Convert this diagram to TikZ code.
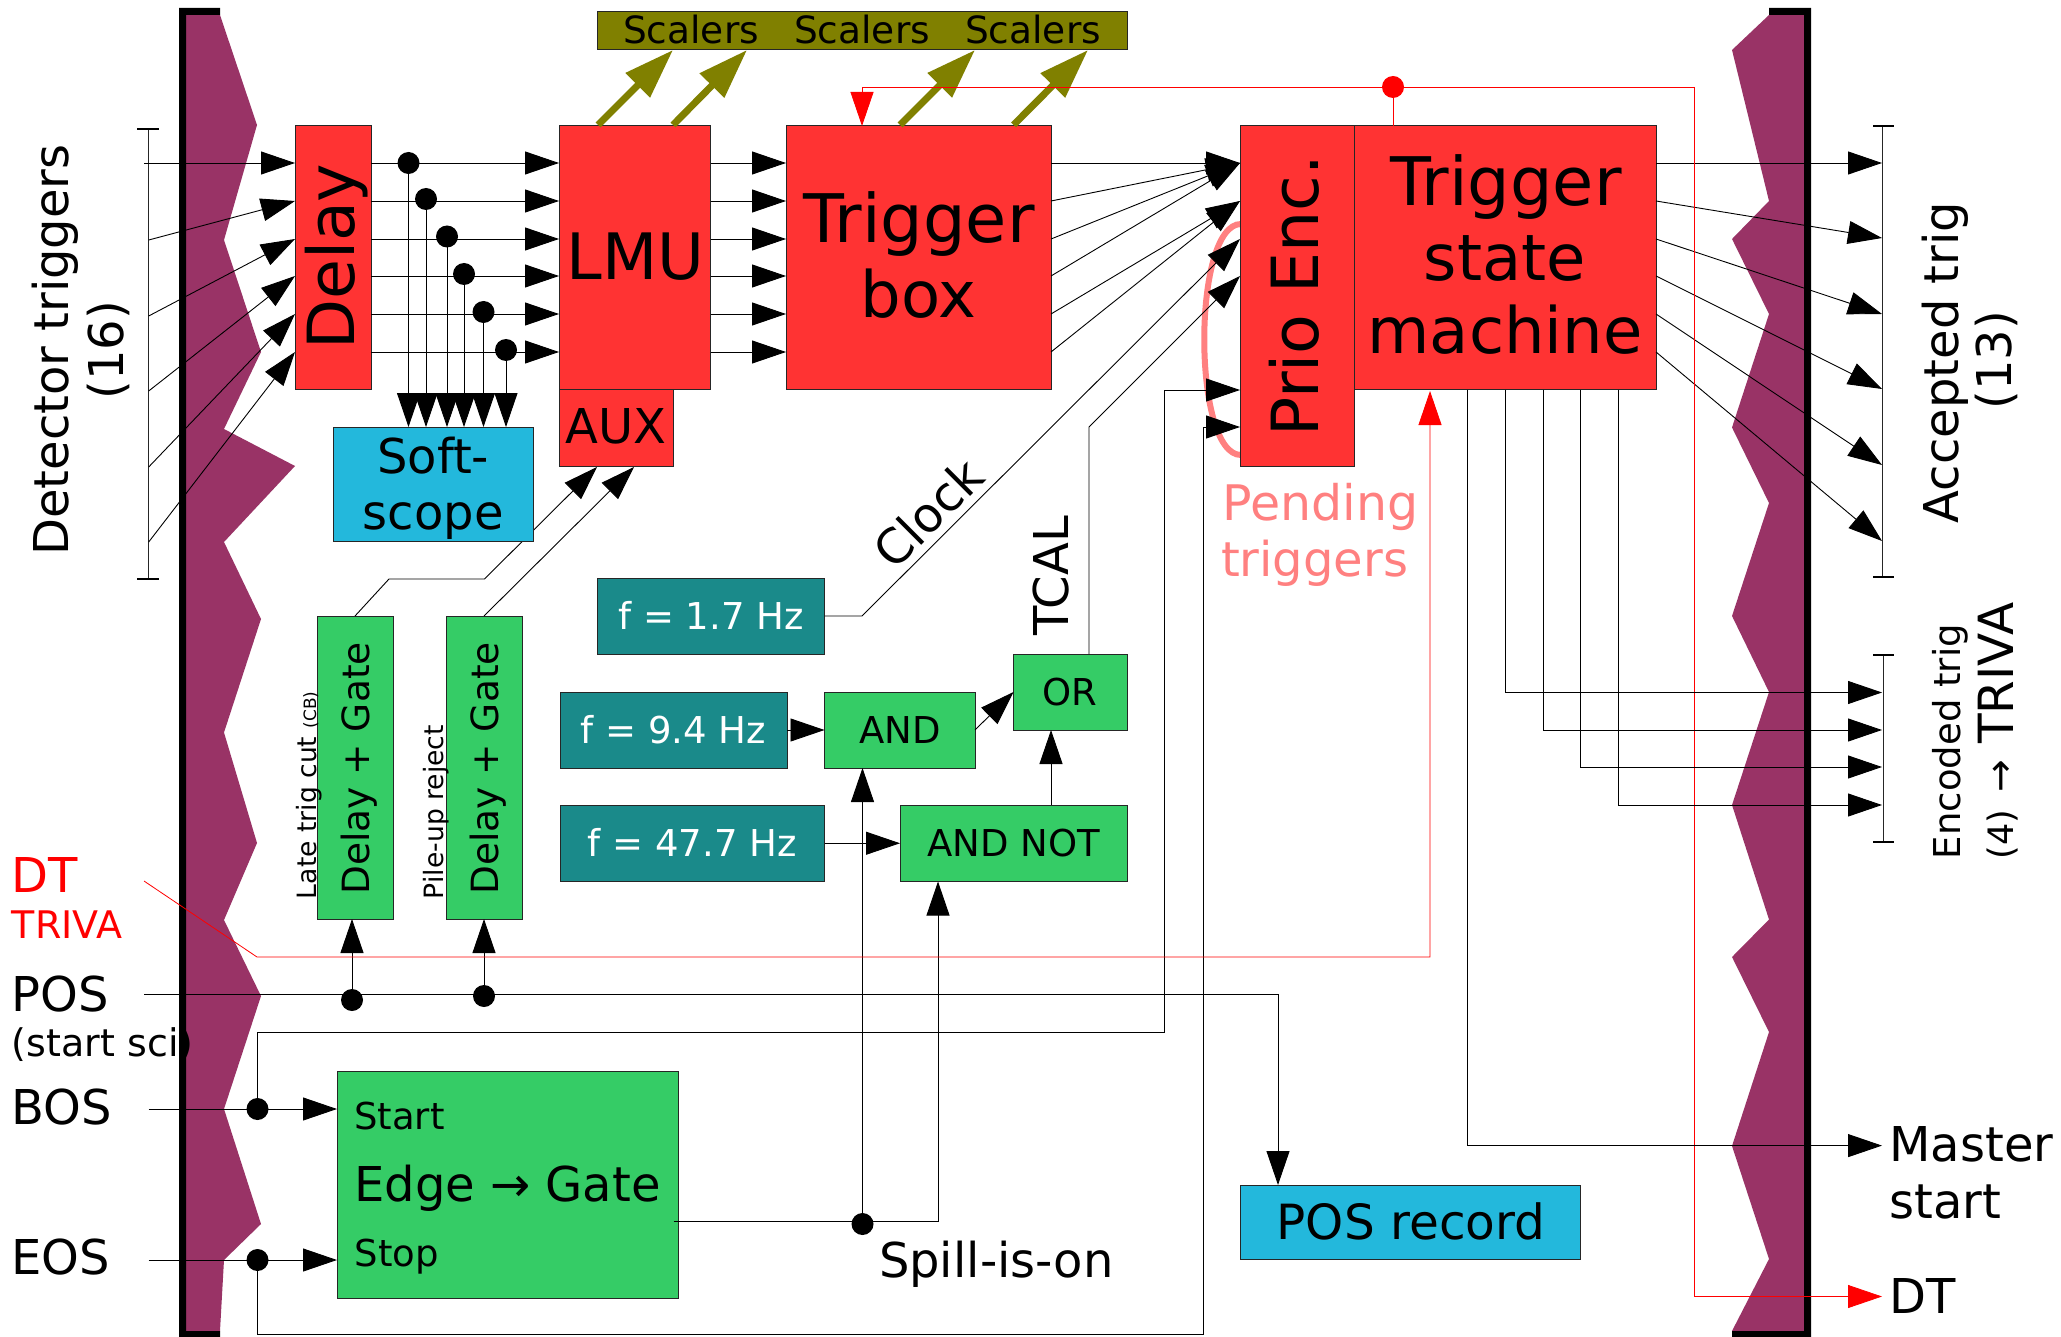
\documentclass[tikz,border=0pt]{standalone}
\usepackage{fontspec}
\setmainfont{DejaVu Sans}
\usetikzlibrary{arrows.meta,calc}
\definecolor{cred}{HTML}{FF3333}
\definecolor{ccyan}{HTML}{23B8DC}
\definecolor{cteal}{HTML}{1A8A8A}
\definecolor{cgreen}{HTML}{35CC66}
\definecolor{cmag}{HTML}{993366}
\definecolor{colive}{HTML}{808000}
\definecolor{cpink}{HTML}{FF8080}
\newcommand\fs[1]{\fontsize{#1}{#1}\selectfont}
% text placed by baseline, relative to the centre of its node: dx, dy (up), angle, text
\newcommand\pl[4]{\rlap{\hspace*{#1pt}\smash{\raisebox{#2pt}{\rotatebox{#3}{\smash{\makebox[0pt][c]{#4}}}}}}}
\newcommand\bx[7]{%
  \pgfmathsetmacro\bw{#4-#2}\pgfmathsetmacro\bh{#5-#3}%
  \pgfmathsetmacro\bcx{(#2+#4)/2}\pgfmathsetmacro\bcy{(#3+#5)/2}%
  \node[boxbase,#6,minimum width=\bw pt,minimum height=\bh pt] (#1) at (\bcx,\bcy) {#7};}
\pgfdeclarelayer{bg}\pgfdeclarelayer{top}\pgfsetlayers{bg,main,top}
\tikzset{
  boxbase/.style={draw=black!85,line width=1pt,inner sep=0pt,outer sep=0pt},
  redbox/.style={fill=cred},cyanbox/.style={fill=ccyan},tealbox/.style={fill=cteal,text=white},
  greenbox/.style={fill=cgreen},olivebox/.style={fill=colive},
  wire/.style={line width=0.9pt,black,line join=miter},
  arr/.style={wire,-{Triangle[length=34pt,width=23pt]}},
  redwire/.style={line width=0.8pt,red},
  redarr/.style={redwire,-{Triangle[length=34pt,width=23pt]}},
  olarr/.style={line width=7pt,colive,-{Triangle[length=50pt,width=33pt]}},
  jdot/.style={circle,fill=black,minimum size=22pt,inner sep=0pt,outer sep=0pt},
  rdot/.style={circle,fill=red,minimum size=22pt,inner sep=0pt,outer sep=0pt},
  lbl/.style={inner sep=0pt,outer sep=0pt},
  stripfill/.style={fill=cmag,draw=none},
  stripedge/.style={fill=black,draw=none},
  brk/.style={line width=1pt,black!85},
  brkcap/.style={line width=2pt,black},
}
\begin{document}
\begin{tikzpicture}[x=1pt,y=-1pt]
\useasboundingbox (0,0) rectangle (2061,1337);
\begin{pgfonlayer}{bg}
\fill[white] (0,0) rectangle (2061,1337);
\fill[stripfill] (185,15) -- (220,15) -- (257,125) -- (224,240) -- (261,352) -- (224,429) -- (295,466) -- (224,542) -- (261,619) -- (224,732.5) -- (257,843) -- (224,920) -- (261,996) -- (224,1109) -- (261,1224) -- (224,1260) -- (220,1331) -- (185,1331) -- cycle;
\fill[stripfill] (1769,15) -- (1732,50) -- (1769,201) -- (1732,239) -- (1769,314) -- (1732,427.5) -- (1769,503) -- (1732,616) -- (1769,692) -- (1732,805) -- (1769,919.5) -- (1732,957) -- (1769,1032) -- (1732,1146) -- (1769,1259) -- (1732,1331) -- (1805,1331) -- (1805,15) -- cycle;
\fill[stripedge] (220,8) -- (179,8) -- (179,1337) -- (220,1337) -- (220,1331) -- (186,1331) -- (186,15) -- (220,15) -- cycle;
\fill[stripedge] (1769,8) -- (1811,8) -- (1811,1337) -- (1732,1337) -- (1732,1331) -- (1804,1331) -- (1804,15) -- (1769,15) -- cycle;
\coordinate (arcA) at (1241,224);
\coordinate (arcB) at (1241,455);
\draw[cpink,line width=6pt] (arcA) .. controls (1192,224) and (1192,455) .. (arcB);
\end{pgfonlayer}

% rows
\foreach \n/\y in {1/163,2/201,3/239,4/276,5/314,6/352}{\coordinate (r\n) at (0,\y);}
\foreach \n/\y in {1/163,2/240,3/316,4/391,5/467,6/542}{\coordinate (in\n) at (148.7,\y);}
\coordinate (in1) at (144,163);
\foreach \n/\y in {1/163,2/238,3/314,4/389,5/465,6/541}{\coordinate (ao\n) at (1882,\y);}

% boxes
\bx{delay}{295}{126}{371}{389.5}{redbox}{\pl{21.5}{1}{90}{\fs{65}Delay}}
\bx{lmu}{559}{126}{710.5}{389.5}{redbox}{\pl{0.5}{-22}{0}{\fs{64}LMU}}
\bx{aux}{559}{389.5}{673}{466}{redbox}{\pl{0}{-16}{0}{\fs{48}AUX}}
\bx{tb}{786}{126}{1051}{389.5}{redbox}{\pl{0.5}{15}{0}{\fs{67}Trigger}\pl{0}{-60}{0}{\fs{64}box}}
\bx{prio}{1240}{126}{1354}{466}{redbox}{\pl{21.5}{0}{90}{\fs{65}Prio Enc.}}
\bx{tsm}{1354}{126}{1656}{389.5}{redbox}{\pl{1}{52.5}{0}{\fs{67}Trigger}\pl{0}{-23}{0}{\fs{64}state}\pl{0}{-96}{0}{\fs{64}machine}}
\bx{scal}{597}{12}{1127}{50}{olivebox}{\pl{-171}{-13}{0}{\fs{37.5}Scalers}\pl{0}{-13}{0}{\fs{37.5}Scalers}\pl{171}{-13}{0}{\fs{37.5}Scalers}}
\begin{pgfonlayer}{top}
\bx{soft}{333}{427}{533.5}{541}{cyanbox}{\pl{0}{11}{0}{\fs{48}Soft-}\pl{0}{-45}{0}{\fs{48}scope}}
\end{pgfonlayer}
\bx{dg1}{317}{616}{393}{919}{greenbox}{\pl{14}{-1}{90}{\fs{37.5}Delay + Gate}}
\bx{dg2}{446}{616}{522}{919}{greenbox}{\pl{14}{-1}{90}{\fs{37.5}Delay + Gate}}
\bx{f17}{597.5}{578}{824.5}{654}{tealbox}{\pl{0}{-13}{0}{\fs{37}f = 1.7 Hz}}
\bx{f94}{560}{692}{787}{768}{tealbox}{\pl{0}{-13}{0}{\fs{37}f = 9.4 Hz}}
\bx{f477}{560}{805}{824.5}{881.5}{tealbox}{\pl{0}{-13}{0}{\fs{37}f = 47.7 Hz}}
\bx{and}{824.5}{692}{975}{768}{greenbox}{\pl{0}{-13}{0}{\fs{37}AND}}
\bx{or}{1013.5}{654}{1127}{730}{greenbox}{\pl{0}{-13}{0}{\fs{37}OR}}
\bx{andnot}{900}{805}{1127}{881.5}{greenbox}{\pl{0}{-13}{0}{\fs{37}AND NOT}}
\bx{edgegate}{337}{1071}{678}{1298.5}{greenbox}{\pl{0}{-17}{0}{\fs{48}Edge → Gate}\pl{-108}{55}{0}{\fs{37}Start}\pl{-110.5}{-81.5}{0}{\fs{37}Stop}}
\bx{posrec}{1240}{1185}{1580}{1259}{cyanbox}{\pl{1}{-17}{0}{\fs{48.5}POS record}}

% labels
\node[lbl,rotate=90,anchor=base,font=\fs{48}] (ldet) at (68,350) {Detector triggers};
\node[lbl,rotate=90,anchor=base,font=\fs{48}] (ldet2) at (123,350) {(16)};
\node[lbl,anchor=base west,text=red,font=\fs{48}] (ldt) at (11.5,892) {DT};
\node[lbl,anchor=base west,text=red,font=\fs{38}] (ltriva) at (12,938) {TRIVA};
\node[lbl,anchor=base west,font=\fs{48}] (lpos) at (11.5,1011) {POS};
\node[lbl,anchor=base west,font=\fs{38}] (lsci) at (12,1056) {(start sci)};
\node[lbl,anchor=base west,font=\fs{48}] (lbos) at (11.5,1124) {BOS};
\node[lbl,anchor=base west,font=\fs{48}] (leos) at (11.5,1274) {EOS};
\node[lbl,rotate=90,anchor=base west,font=\fs{26.6}] (llate) at (316,899) {Late trig cut {\fs{17}(CB)}};
\node[lbl,rotate=90,anchor=base west,font=\fs{26.6}] (lpile) at (443,899) {Pile-up reject};
\node[lbl,rotate=45,anchor=center,font=\fs{48}] (lclock) at (928,513) {Clock};
\node[lbl,rotate=90,anchor=base,font=\fs{48}] (ltcal) at (1068,576) {TCAL};
\node[lbl,anchor=base west,text=cpink,font=\fs{49}] (lpend) at (1222.5,520) {Pending};
\node[lbl,anchor=base west,text=cpink,font=\fs{48}] (ltrg) at (1221,576.5) {triggers};
\node[lbl,anchor=base west,font=\fs{48}] (lspill) at (879,1277) {Spill-is-on};
\node[lbl,rotate=90,anchor=base,font=\fs{48}] (lacc) at (1958,362.5) {Accepted trig};
\node[lbl,rotate=90,anchor=base,font=\fs{48}] (lacc2) at (2011,360) {(13)};
\node[lbl,rotate=90,anchor=base west,font=\fs{37}] (lenc) at (1960,859) {Encoded trig};
\node[lbl,rotate=90,anchor=base west,font=\fs{35}] (lenc2) at (2013,859) {(4){\fs{52} }{\fs{39}→}{\fs{52} }{\fs{48.5}TRIVA}};
\node[lbl,anchor=base west,font=\fs{48}] (lmaster) at (1889.5,1161.5) {Master};
\node[lbl,anchor=base west,font=\fs{48}] (lstart) at (1889.5,1218) {start};
\node[lbl,anchor=base west,font=\fs{48}] (ldtout) at (1889.5,1313) {DT};

% brackets
\coordinate (b1a) at (148.7,128.6);\coordinate (b1b) at (148.7,579);
\coordinate (b1aL) at (137,128.6);\coordinate (b1aR) at (159,128.6);
\coordinate (b1bL) at (137,579);\coordinate (b1bR) at (159,579);
\draw[brk] (b1a) -- (b1b);\draw[brkcap] (b1aL) -- (b1aR);\draw[brkcap] (b1bL) -- (b1bR);
\coordinate (b2a) at (1882,126);\coordinate (b2b) at (1882,577);
\coordinate (b2aL) at (1873,126);\coordinate (b2aR) at (1894,126);
\coordinate (b2bL) at (1873,577);\coordinate (b2bR) at (1894,577);
\draw[brk] (b2a) -- (b2b);\draw[brkcap] (b2aL) -- (b2aR);\draw[brkcap] (b2bL) -- (b2bR);
\coordinate (b3a) at (1883,655);\coordinate (b3b) at (1883,841.5);
\coordinate (b3aL) at (1873,655);\coordinate (b3aR) at (1894,655);
\coordinate (b3bL) at (1873,841.5);\coordinate (b3bR) at (1894,841.5);
\draw[brk] (b3a) -- (b3b);\draw[brkcap] (b3aL) -- (b3aR);\draw[brkcap] (b3bL) -- (b3bR);

% detector inputs and row connectors
\foreach \n in {1,...,6}{
  \draw[arr] (in\n) -- (delay.west |- r\n);
  \draw[arr] (delay.east |- r\n) -- (lmu.west |- r\n);
  \draw[arr] (lmu.east |- r\n) -- (tb.west |- r\n);
  \draw[arr] (tsm.east |- r\n) -- (ao\n);
}
\foreach \n in {1,2,3,4}{\draw[arr] (tb.east |- r\n) -- (prio.west |- r1);}
\foreach \n in {5,6}{\draw[arr] (tb.east |- r\n) -- (prio.west |- r2);}

% softscope taps
\node[jdot] (t1) at (408.5,163) {};
\node[jdot] (t2) at (426,199) {};
\node[jdot] (t3) at (447,236.5) {};
\node[jdot] (t4) at (464,274) {};
\node[jdot] (t5) at (483.5,312) {};
\node[jdot] (t6) at (506,350) {};
\foreach \n in {1,...,6}{\draw[arr] (t\n.center) -- (t\n.center |- soft.north);}

% scalers
\coordinate (oa1) at (598,125);\coordinate (ob1) at (673,50);
\coordinate (oa2) at (673,125);\coordinate (ob2) at (747,50);
\coordinate (oa3) at (900,125);\coordinate (ob3) at (975,50);
\coordinate (oa4) at (1013.5,125);\coordinate (ob4) at (1088,50);
\foreach \n in {1,...,4}{\draw[olarr] (oa\n) -- (ob\n);}

% Delay+Gate to AUX
\coordinate (k1) at (355,616);\coordinate (k2) at (389,579);\coordinate (k3) at (484.5,579);\coordinate (auxa) at (597,467);
\draw[arr] (k1) -- (k2) -- (k3) -- (auxa);
\coordinate (k4) at (484,616);\coordinate (auxb) at (634,467);
\draw[arr] (k4) -- (auxb);

% POS
\node[jdot] (pd1) at (352,1000) {};
\node[jdot] (pd2) at (484,996) {};
\coordinate (pin) at (144,994);
\coordinate (pcorner) at (1278,994);
\draw[arr] (pin) -- (pcorner) -- (pcorner |- posrec.north);
\draw[arr] (pd1.center) -- (pd1.center |- dg1.south);
\draw[arr] (pd2.center) -- (pd2.center |- dg2.south);

% BOS / EOS
\coordinate (bin) at (148.7,1109);\coordinate (ein) at (148.7,1260);
\node[jdot] (bd) at (257.5,1109) {};
\node[jdot] (ed) at (257.5,1260) {};
\draw[arr] (bin) -- (bin -| edgegate.west);
\draw[arr] (ein) -- (ein -| edgegate.west);
\coordinate (bc1) at (257.5,1032);\coordinate (bc2) at (1164,1032);\coordinate (bc3) at (1164,390);
\draw[arr] (bd.center) -- (bc1) -- (bc2) -- (bc3) -- (bc3 -| prio.west);
\coordinate (ec1) at (257.5,1334);\coordinate (ec2) at (1203,1334);\coordinate (ec3) at (1203,427);
\draw[arr] (ed.center) -- (ec1) -- (ec2) -- (ec3) -- (ec3 -| prio.west);

% clock, tcal
\coordinate (c1) at (862,616);
\draw[arr] (f17.east) -- (c1) -- (prio.west |- r3);
\coordinate (tc1) at (1089,654);\coordinate (tc2) at (1089,427);
\draw[arr] (tc1) -- (tc2) -- (prio.west |- r4);

% logic
\draw[arr] (f94.east) -- (and.west);
\draw[arr] (f477.east) -- (andnot.west);
\draw[arr] (and.east) -- (or.west);
\coordinate (an1) at (1051,805);
\draw[arr] (an1) -- (an1 |- or.south);
\coordinate (sp0) at (673.5,1221);\coordinate (sp1) at (938,1221);
\draw[arr] (sp0) -- (sp1) -- (sp1 |- andnot.south);
\node[jdot] (sd) at (862.5,1224) {};
\draw[arr] (sd.center) -- (sd.center |- and.south);

% DT
\coordinate (dti) at (144,881);\coordinate (dt1) at (257,957);\coordinate (dt2) at (1430,957);\coordinate (dt3) at (1430,391);
\draw[redarr] (dti) -- (dt1) -- (dt2) -- (dt3);
\node[rdot] (rd) at (1393,87) {};
\coordinate (ra) at (1393,126);
\draw[redwire] (ra) -- (rd.center);
\coordinate (rl) at (862,87);\coordinate (rr) at (1694,87);\coordinate (rb) at (1694,1296.5);\coordinate (rout) at (1882,1296.5);\coordinate (rt) at (862,126);
\draw[redarr] (rr) -- (rl) -- (rt);
\draw[redarr] (rr) -- (rb) -- (rout);

% encoded trig, master start
\foreach \x/\y in {1505/692.5,1543/730,1580/767,1618/805}{
  \coordinate (e\x) at (\x,\y);
  \coordinate (eo\x) at (1882,\y);
  \draw[arr] (e\x |- tsm.south) -- (e\x) -- (eo\x);
}
\coordinate (m1) at (1467,1145.6);\coordinate (m2) at (1882,1145.6);
\draw[arr] (m1 |- tsm.south) -- (m1) -- (m2);
\end{tikzpicture}
\end{document}
